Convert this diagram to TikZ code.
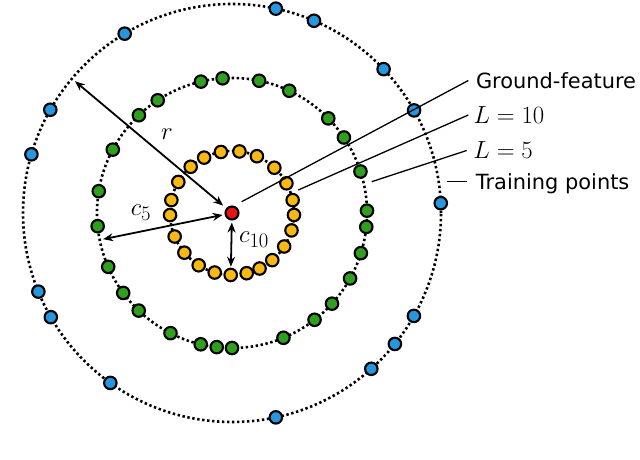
\documentclass[tikz,border=0pt]{standalone}
\usepackage{fontspec}
\newfontfamily\lblfont{DejaVu Sans}
\usetikzlibrary{arrows.meta,calc}
\definecolor{dotyellow}{RGB}{250,184,18}
\definecolor{dotgreen}{RGB}{48,158,30}
\definecolor{dotblue}{RGB}{38,150,222}
\definecolor{dotred}{RGB}{232,18,18}
\begin{document}
\begin{tikzpicture}[x=1bp,y=1bp,
  ring/.style={line width=2.6bp,dash pattern=on 2.4bp off 2.6bp},
  pt/.style={circle,draw=black,line width=2.1bp,minimum size=12.5bp,inner sep=0pt},
  dbl/.style={line width=1.8bp,{Stealth[length=10bp,width=8bp]}-{Stealth[length=10bp,width=8bp]}},
  lead/.style={line width=1.3bp},
  txt/.style={anchor=west,inner ysep=0pt,text depth=0pt,font=\lblfont\fontsize{21}{25}\selectfont},
  mtxt/.style={anchor=west,inner ysep=0pt,text depth=0pt,font=\fontsize{25}{29}\selectfont},
  mlbl/.style={inner sep=0pt,font=\fontsize{28}{32}\selectfont}]
\useasboundingbox (0,0) rectangle (640,460);
\coordinate (C) at (232,247);
% dotted rings
\draw[ring] (C) circle[radius=62];
\draw[ring] (C) circle[radius=135];
\draw[ring] (C) circle[radius=209];
\node[pt,fill=dotred,minimum size=13bp] (gfpt) at (C) {};
\coordinate (rend) at ($(C)+(140:205)$);
\coordinate (c5end) at ($(C)+(191.5:131.5)$);
% yellow points (L = 10)
\foreach \a [count=\i] in {116.7,100.3,83.1,66.3,46.9,28.6,12,-1.8,-16.3,-32.7,-49.5,-63.6,-76.3,-91.2,-106.2,-122.5,-140.2,-157.7,-178.1,168,150,131.8}
  \node[pt,fill=dotyellow] (y\i) at ($(C)+(\a:62)$) {};
% green points (L = 5)
\foreach \a [count=\i] in {103.3,94,78.4,64.9,44.5,34,17.9,1,-5.9,-17.3,-29,-42.2,-52.3,-67.6,-90,-96.5,-103.4,-117.1,-133.7,-143.7,-156.5,-174.4,170.7,152,133.6,123.4}
  \node[pt,fill=dotgreen] (g\i) at ($(C)+(\a:135)$) {};
% blue points (training)
\foreach \a [count=\i] in {77.9,66.9,43.5,29.4,2.7,-29.5,-38.8,-48.2,-77.9,-125.6,-150.1,-157.9,163.7,150.4,120.9}
  \node[pt,fill=dotblue] (b\i) at ($(C)+(\a:209)$) {};
% dimension arrows
\draw[dbl,shorten <=4bp] (gfpt) -- (rend);
\draw[dbl,shorten <=2bp] (gfpt) -- (c5end);
\draw[dbl,shorten <=2bp,shorten >=1bp] (gfpt) -- (y14);
\node[mlbl] (rlbl) at (167,326) {$r$};
\node[mlbl] (c5lbl) at (141,247) {$c_5$};
\node[mlbl] (c10lbl) at (254,220) {$c_{10}$};
% labels with leaders
\node[txt,inner xsep=7.5bp] (gft) at (468.3,379.5) {Ground-feature};
\node[mtxt,inner xsep=5bp] (l10t) at (468.3,345) {$L=10$};
\node[mtxt,inner xsep=6.5bp] (l5t) at (466.7,309.5) {$L=5$};
\node[txt,inner xsep=9bp] (tpt) at (466.7,278.3) {Training points};
\coordinate (gfs) at (241.7,258.3);
\coordinate (l10s) at (298.3,270);
\coordinate (l5s) at (371.7,278.3);
\coordinate (tps) at (446.7,278.3);
\draw[lead] (gfs) -- (gft.west);
\draw[lead] (l10s) -- (l10t.west);
\draw[lead] (l5s) -- (l5t.west);
\draw[lead] (tps) -- (tpt.west);
\end{tikzpicture}
\end{document}
